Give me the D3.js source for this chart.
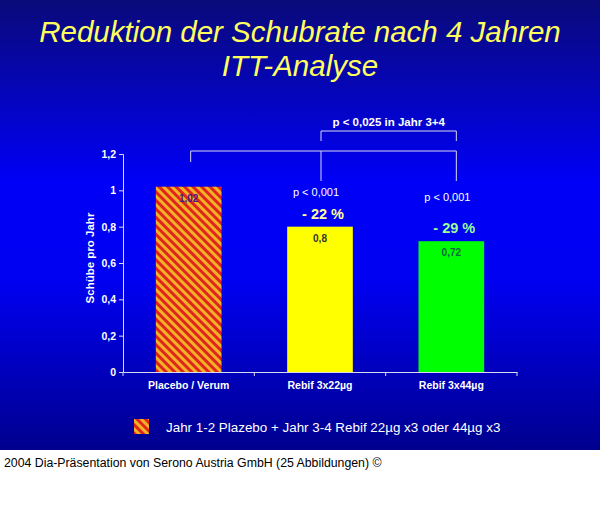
<!DOCTYPE html>
<html>
<head>
<meta charset="utf-8">
<script src="https://cdn.jsdelivr.net/npm/d3@7"></script>
<style>
  body { margin: 0; background: #fff; }
  svg { display: block; font-family: "Liberation Sans", Arial, sans-serif; }
</style>
</head>
<body>
<svg id="chart" width="600" height="512"></svg>
<script>
var categories = ['Placebo / Verum', 'Rebif 3x22µg', 'Rebif 3x44µg'];
var values = [1.02, 0.8, 0.72];
var valueLabels = ['1,02', '0,8', '0,72'];
var yTicks = [0, 0.2, 0.4, 0.6, 0.8, 1, 1.2];
var yTickLabels = ['0', '0,2', '0,4', '0,6', '0,8', '1', '1,2'];
var pLabels = ['', 'p < 0,001', 'p < 0,001'];
var reductions = ['', '- 22 %', '- 29 %'];

var config = {
  slideHeight: 450,
  plotLeft: 123,
  plotRight: 517,
  plotTop: 154,
  plotBottom: 372,
  axisColor: '#d8d8f0',
  barFills: ['url(#hatch)', '#ffff00', '#00ff00'],
  valueColors: ['#4a1a8a', '#333333', '#0a6640'],
  reductionColors: ['', '#ffff99', '#99ff99'],
  pLabelOffset: [0, 31, 40]
}

var svg = d3.select('#chart');
var defs = svg.append('defs');

var grad = defs.append('linearGradient')
  .attr('id', 'bg')
  .attr('x1', 0).attr('y1', 0).attr('x2', 0).attr('y2', 1);
grad.append('stop').attr('offset', '0%').attr('stop-color', '#0a0a7a');
grad.append('stop').attr('offset', '40%').attr('stop-color', '#0000f6');
grad.append('stop').attr('offset', '62%').attr('stop-color', '#0000f2');
grad.append('stop').attr('offset', '100%').attr('stop-color', '#00008e');

var hatch = defs.append('pattern')
  .attr('id', 'hatch')
  .attr('patternUnits', 'userSpaceOnUse')
  .attr('width', 6).attr('height', 6)
  .attr('patternTransform', 'rotate(45)');
hatch.append('rect').attr('width', 6).attr('height', 6).attr('fill', '#f2b227');
hatch.append('rect').attr('width', 6).attr('height', 3).attr('fill', '#e0261c');

svg.append('rect')
  .attr('width', 600)
  .attr('height', config.slideHeight)
  .attr('fill', 'url(#bg)');

// title
svg.append('text')
  .attr('x', 300).attr('y', 42)
  .attr('text-anchor', 'middle')
  .attr('font-size', '29.5px')
  .attr('font-style', 'italic')
  .attr('fill', '#ffff5e')
  .text('Reduktion der Schubrate nach 4 Jahren');
svg.append('text')
  .attr('x', 300).attr('y', 76)
  .attr('text-anchor', 'middle')
  .attr('font-size', '29.5px')
  .attr('font-style', 'italic')
  .attr('fill', '#ffff5e')
  .text('ITT-Analyse');

var x = d3.scaleBand()
  .domain(categories)
  .range([config.plotLeft, config.plotRight])
  .paddingInner(0.5)
  .paddingOuter(0.25);

var y = d3.scaleLinear()
  .domain([0, 1.2])
  .range([config.plotBottom, config.plotTop]);

var yAxis = svg.append('g')
  .attr('transform', 'translate(' + config.plotLeft + ',0)')
  .call(d3.axisLeft(y).tickValues(yTicks).tickSize(4)
    .tickFormat(function(d, i) { return yTickLabels[i]; }));

var xAxis = svg.append('g')
  .attr('transform', 'translate(0,' + config.plotBottom + ')')
  .call(d3.axisBottom(x).tickSize(0).tickPadding(10));

// category boundary ticks
var step = x.step();
for (var i = 0; i <= categories.length; i += 1) {
  svg.append('line')
    .attr('x1', config.plotLeft + step * i).attr('x2', config.plotLeft + step * i)
    .attr('y1', config.plotBottom).attr('y2', config.plotBottom + 4)
    .attr('stroke', config.axisColor);
}

[yAxis, xAxis].forEach(function(a) {
  a.selectAll('path, line').attr('stroke', config.axisColor);
  a.selectAll('text')
    .attr('fill', '#ffffff')
    .attr('font-weight', 'bold')
    .attr('font-family', '"Liberation Sans", Arial, sans-serif');
});
yAxis.selectAll('text').attr('font-size', '10.5px');
xAxis.selectAll('text').attr('font-size', '10.5px');

svg.append('text')
  .attr('transform', 'translate(94,' + (y(0.6) - 5) + ') rotate(-90)')
  .attr('text-anchor', 'middle')
  .attr('font-size', '11.5px')
  .attr('font-weight', 'bold')
  .attr('fill', '#ffffff')
  .text('Schübe pro Jahr');

// bars
svg.selectAll('.bar')
  .data(values)
  .enter().append('rect')
  .attr('class', 'bar')
  .attr('x', function(d, i) { return x(categories[i]); })
  .attr('y', function(d) { return y(d); })
  .attr('width', x.bandwidth())
  .attr('height', function(d) { return y(0) - y(d); })
  .attr('fill', function(d, i) { return config.barFills[i]; });

svg.selectAll('.val')
  .data(values)
  .enter().append('text')
  .attr('class', 'val')
  .attr('x', function(d, i) { return x(categories[i]) + x.bandwidth() / 2; })
  .attr('y', function(d) { return y(d) + 15; })
  .attr('text-anchor', 'middle')
  .attr('font-size', '10px')
  .attr('font-weight', 'bold')
  .attr('fill', function(d, i) { return config.valueColors[i]; })
  .text(function(d, i) { return valueLabels[i]; });

// p values and reductions
var mid = function(i) { return x(categories[i]) + x.bandwidth() / 2; };
for (var i = 1; i < categories.length; i += 1) {
  svg.append('text')
    .attr('x', mid(i) - 4)
    .attr('y', y(values[i]) - config.pLabelOffset[i])
    .attr('text-anchor', 'middle')
    .attr('font-size', '11px')
    .attr('fill', '#ffffff')
    .text(pLabels[i]);
  svg.append('text')
    .attr('x', mid(i) + 3)
    .attr('y', y(values[i]) - 8)
    .attr('text-anchor', 'middle')
    .attr('font-size', '14.5px')
    .attr('font-weight', 'bold')
    .attr('fill', config.reductionColors[i])
    .text(reductions[i]);
}

// brackets
var bx0 = mid(0) + 2, bx1 = mid(1) + 1, bx2 = mid(2) + 5;
var bracket = d3.path();
bracket.moveTo(bx0, 162); bracket.lineTo(bx0, 151); bracket.lineTo(bx2, 151); bracket.lineTo(bx2, 181);
bracket.moveTo(bx1, 151); bracket.lineTo(bx1, 181);
bracket.moveTo(bx1, 141); bracket.lineTo(bx1, 131); bracket.lineTo(bx2, 131); bracket.lineTo(bx2, 141);
svg.append('path')
  .attr('d', bracket.toString())
  .attr('fill', 'none')
  .attr('stroke', config.axisColor)
  .attr('stroke-width', 1);

svg.append('text')
  .attr('x', (bx1 + bx2) / 2)
  .attr('y', 126)
  .attr('text-anchor', 'middle')
  .attr('font-size', '11.5px')
  .attr('font-weight', 'bold')
  .attr('fill', '#ffffff')
  .text('p < 0,025 in Jahr 3+4');

// legend
svg.append('rect')
  .attr('x', 134).attr('y', 419)
  .attr('width', 15).attr('height', 15)
  .attr('fill', 'url(#hatch)');
svg.append('text')
  .attr('x', 166).attr('y', 432)
  .attr('font-size', '13.4px')
  .attr('fill', '#ffffff')
  .text('Jahr 1-2 Plazebo + Jahr 3-4 Rebif 22µg x3 oder 44µg x3');

// footer
svg.append('text')
  .attr('x', 4).attr('y', 467)
  .attr('font-size', '12.3px')
  .attr('fill', '#000000')
  .text('2004 Dia-Präsentation von Serono Austria GmbH (25 Abbildungen) ©');
</script>
</body>
</html>
